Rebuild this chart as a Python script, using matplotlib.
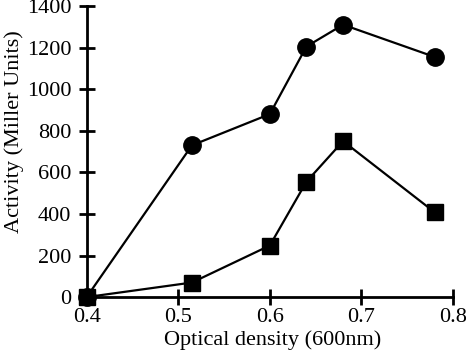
import matplotlib
matplotlib.use("Agg")
import matplotlib.pyplot as plt

# Values
od_circle = [0.40, 0.515, 0.60, 0.64, 0.68, 0.78]
act_circle = [0, 730, 880, 1205, 1310, 1155]
od_square = [0.40, 0.515, 0.60, 0.64, 0.68, 0.78]
act_square = [0, 70, 248, 555, 750, 408]
x_ticks = [0.4, 0.5, 0.6, 0.7, 0.8]
y_ticks = [0, 200, 400, 600, 800, 1000, 1200, 1400]

plt.rcParams["font.family"] = ["Liberation Serif", "DejaVu Serif"]

fig = plt.figure(figsize=(4.66, 3.52), dpi=100)
ax = fig.add_axes([0.186, 0.156, 0.786, 0.827])

ax.plot(od_circle, act_circle, color="black", lw=1.6, marker="o", ms=12.5,
        clip_on=False, zorder=3)
ax.plot(od_square, act_square, color="black", lw=1.6, marker="s", ms=11,
        clip_on=False, zorder=3)

ax.set_xlim(0.4, 0.8)
ax.set_ylim(0, 1400)
ax.set_xticks(x_ticks)
ax.set_xticklabels([f"{t:.1f}" for t in x_ticks])
ax.set_yticks(y_ticks)

for side in ("top", "right"):
    ax.spines[side].set_visible(False)
for side in ("left", "bottom"):
    ax.spines[side].set_linewidth(2)

ax.tick_params(direction="inout", length=12, width=2, labelsize=16)
ax.tick_params(axis="x", pad=2)
ax.tick_params(axis="y", pad=5)
ax.set_xlabel("Optical density (600nm)", fontsize=16)
ax.set_ylabel("Activity (Miller Units)", fontsize=16)
ax.xaxis.set_label_coords(0.507, -0.115)
ax.yaxis.set_label_coords(-0.172, 0.57)

fig.savefig("out.png", dpi=100)
